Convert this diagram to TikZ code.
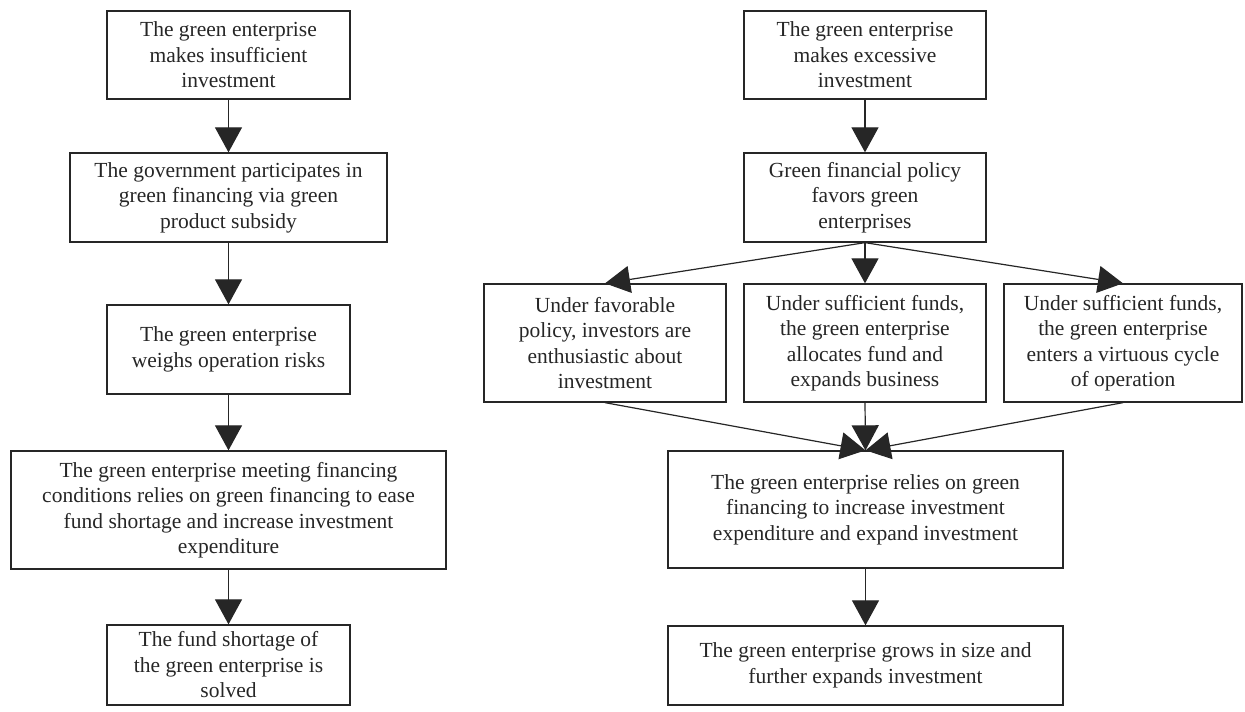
\documentclass[tikz,border=0pt]{standalone}
\usepackage{fontspec}
\setmainfont{Liberation Serif}
\usetikzlibrary{arrows.meta}
\begin{document}
\begin{tikzpicture}[x=1pt,y=-1pt,
  box/.style={draw=black!85,line width=1.3pt,inner sep=0pt,align=center,
    font=\fontsize{21.5}{25.5}\selectfont,text=black!85},
  link/.style={draw=black!85,line width=1.2pt,-{Triangle[length=25pt,width=27pt]}}]
\useasboundingbox (0,0) rectangle (1245,712);
% left column
\node[box,minimum width=243pt,minimum height=88pt] (L1) at (228.5,55) {The green enterprise\\makes insufficient\\investment};
\node[box,minimum width=317pt,minimum height=89pt] (L2) at (228.5,197.5) {The government participates in\\green financing via green\\product subsidy};
\node[box,minimum width=243pt,minimum height=89pt] (L3) at (228.5,349.5) {The green enterprise\\weighs operation risks};
\node[box,minimum width=435pt,minimum height=118pt] (L4) at (228.5,510) {The green enterprise meeting financing\\conditions relies on green financing to ease\\fund shortage and increase investment\\expenditure};
\node[box,minimum width=243pt,minimum height=80pt] (L5) at (228.5,665) {The fund shortage of\\the green enterprise is\\solved};
% right column
\node[box,minimum width=242pt,minimum height=88pt] (R1) at (865,55) {The green enterprise\\makes excessive\\investment};
\node[box,minimum width=242pt,minimum height=89pt] (R2) at (865,197.5) {Green financial policy\\favors green\\enterprises};
\node[box,minimum width=242pt,minimum height=118pt] (A) at (605,343) {Under favorable\\policy, investors are\\enthusiastic about\\investment};
\node[box,minimum width=242pt,minimum height=118pt] (B) at (865,343) {Under sufficient funds,\\the green enterprise\\allocates fund and\\expands business};
\node[box,minimum width=238pt,minimum height=118pt] (C) at (1123,343) {Under sufficient funds,\\the green enterprise\\enters a virtuous cycle\\of operation};
\node[box,minimum width=395pt,minimum height=117pt] (R3) at (865.5,509.5) {The green enterprise relies on green\\financing to increase investment\\expenditure and expand investment};
\node[box,minimum width=395pt,minimum height=79pt] (R4) at (865.5,665.5) {The green enterprise grows in size and\\further expands investment};
% connectors
\draw[link] (L1) -- (L2);
\draw[link] (L2) -- (L3);
\draw[link] (L3) -- (L4);
\draw[link] (L4) -- (L5);
\draw[link] (R1) -- (R2);
\draw[link] (R2.south) -- (A.north);
\draw[link] (R2.south) -- (B.north);
\draw[link] (R2.south) -- (C.north);
\draw[link] (A.south) -- (R3.north);
\draw[link] (B.south) -- (R3.north);
\draw[link] (C.south) -- (R3.north);
\draw[link] (R3) -- (R4);
\end{tikzpicture}
\end{document}
